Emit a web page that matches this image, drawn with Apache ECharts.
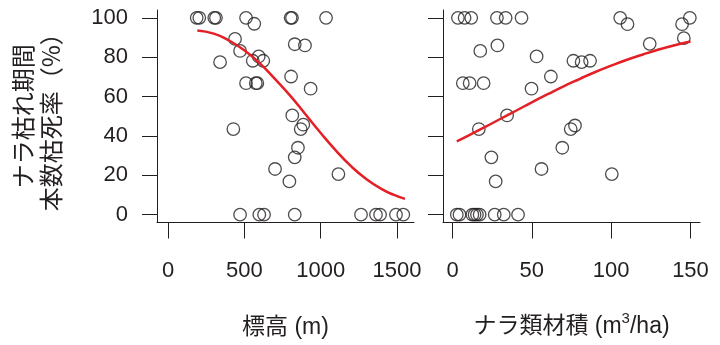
<!DOCTYPE html>
<html>
<head>
<meta charset="utf-8">
<script src="https://cdn.jsdelivr.net/npm/echarts@6/dist/echarts.min.js"></script>
<style>html,body{margin:0;padding:0;background:#fff;}#c{width:720px;height:345px;}</style>
</head>
<body>
<div id="c"></div>
<script>
// ---- data ----
var yTicks = [0, 20, 40, 60, 80, 100];
var elevTicks = [0, 500, 1000, 1500];
var volTicks = [0, 50, 100, 150];

// 標高 (m) vs 本数枯死率 (%)
var elevPoints = [
  [188,100],[205,100],[303,100],[314,100],[511,100],[803,100],[812,100],[1035,100],
  [565,97],[439,89.3],[830,86.6],[897,86],[472,83.2],[341,77.5],[555,78.2],[594,80.4],
  [624,78.2],[511,66.8],[575,66.8],[585,66.8],[806,70.2],[934,64],[814,50.4],[886,45.7],
  [869,43.5],[428,43.5],[851,34],[830,29.1],[701,23.2],[1116,20.6],[795,16.9],
  [472,0],[598,0],[629,0],[830,0],[1264,0],[1362,0],[1389,0],[1493,0],[1541,0]
];
var elevCurve = [
  [192,93.6],[300,92],[400,88.5],[500,83.5],[600,77],[700,69],[800,60.5],[900,51],
  [1000,41.5],[1100,32.5],[1200,24.5],[1300,18],[1400,13],[1480,10],[1552,8]
];

// ナラ類材積 (m3/ha) vs 本数枯死率 (%)
var volPoints = [
  [3.4,100],[7.6,100],[11.8,100],[28,100],[33.5,100],[43.5,100],[105.7,100],[149.6,100],
  [110.3,96.8],[144.7,96.8],[145.8,89.7],[124.3,86.8],[17.5,83.2],[28.3,86],[53,80.4],
  [76.2,78.2],[81.4,77.5],[86.7,78.2],[62,70.2],[49.8,64],[6.5,66.8],[10.8,66.8],[19.6,66.8],
  [34.4,50.4],[16.6,43.5],[74.5,43.5],[77.2,45.3],[69.2,34],[24.5,29.1],[56.1,23.2],
  [100.4,20.6],[27.2,16.9],
  [2.7,0],[4.4,0],[12.5,0],[13.9,0],[15.4,0],[17.1,0],[26.6,0],[32.3,0],[41.3,0]
];
var volCurve = [
  [2.7,37.2],[10,40.2],[20,44.3],[30,48.6],[40,52.8],[50,57.1],[60,61.2],[70,65.2],
  [80,68.9],[90,72.5],[100,75.7],[110,78.7],[120,81.4],[130,83.9],[140,86.1],[150,88]
];

var yTitle = 'ナラ枯れ期間\n本数枯死率（%）';
var elevTitle = '標高 (m)';
var volTitleA = 'ナラ類材積 (m';
var volTitleSup = '3';
var volTitleB = '/ha)';

// ---- chart ----
var INK = '#231f20';
var FONT = "'Liberation Sans', 'Noto Sans CJK JP', sans-serif";
var chart = echarts.init(document.getElementById('c'), null, {renderer: 'canvas'});

function plain(v) { return String(v); }

function xAxisDef(idx, min, max, ticks, name, gap, rich) {
  var a = {
    type: 'value', gridIndex: idx, min: min, max: max,
    name: name, nameLocation: 'middle', nameGap: gap,
    nameTextStyle: {color: INK, fontSize: 23, fontFamily: FONT},
    axisLine: {show: true, onZero: false, lineStyle: {color: INK, width: 1}},
    axisTick: {show: true, inside: false, length: 16, customValues: ticks, lineStyle: {color: INK, width: 1}},
    axisLabel: {show: true, customValues: ticks, formatter: plain, margin: 37, color: INK, fontSize: 22, fontFamily: FONT},
    splitLine: {show: false}
  };
  if (rich) a.nameTextStyle.rich = rich;
  return a;
}
function yAxisDef(idx, showLabel, name) {
  return {
    type: 'value', gridIndex: idx, min: -4, max: 104,
    name: name || '', nameLocation: 'middle', nameRotate: 90, nameGap: 92,
    nameTextStyle: {color: INK, fontSize: 24, lineHeight: 28, fontFamily: "'Noto Sans CJK JP', sans-serif"},
    axisLine: {show: true, onZero: false, lineStyle: {color: INK, width: 1}},
    axisTick: {show: true, inside: false, length: 15, customValues: yTicks, lineStyle: {color: INK, width: 1}},
    axisLabel: {show: showLabel, customValues: yTicks, formatter: plain, margin: 29, color: INK, fontSize: 22, fontFamily: FONT, padding: [6, 0, 0, 0]},
    splitLine: {show: false}
  };
}

var scatterStyle = {color: 'rgba(0,0,0,0)', borderColor: INK, borderWidth: 1.3};
var lineStyle = {color: '#e41f25', width: 2.5};

chart.setOption({
  animation: false,
  backgroundColor: '#fff',
  grid: [
    {left: 157, top: 10, width: 257, height: 212.5},
    {left: 443, top: 10, width: 257, height: 212.5}
  ],
  xAxis: [
    xAxisDef(0, -72, 1611, elevTicks, elevTitle, 94),
    xAxisDef(1, -6, 156, volTicks, '{a|' + volTitleA + '}{s|' + volTitleSup + '}{a|' + volTitleB + '}', 89, {
      a: {fontSize: 23, color: INK, fontFamily: FONT, lineHeight: 30},
      s: {fontSize: 15, color: INK, fontFamily: FONT, lineHeight: 30, verticalAlign: 'top', padding: [0, 0, 6, 0]}
    })
  ],
  yAxis: [
    yAxisDef(0, true, yTitle),
    yAxisDef(1, false)
  ],
  series: [
    {type: 'scatter', xAxisIndex: 0, yAxisIndex: 0, data: elevPoints, symbol: 'circle', symbolSize: 12.5, itemStyle: scatterStyle, silent: true},
    {type: 'line', xAxisIndex: 0, yAxisIndex: 0, data: elevCurve, smooth: true, showSymbol: false, lineStyle: lineStyle, silent: true, z: 3},
    {type: 'scatter', xAxisIndex: 1, yAxisIndex: 1, data: volPoints, symbol: 'circle', symbolSize: 12.5, itemStyle: scatterStyle, silent: true},
    {type: 'line', xAxisIndex: 1, yAxisIndex: 1, data: volCurve, smooth: true, showSymbol: false, lineStyle: lineStyle, silent: true, z: 3}
  ]
});
</script>
</body>
</html>
